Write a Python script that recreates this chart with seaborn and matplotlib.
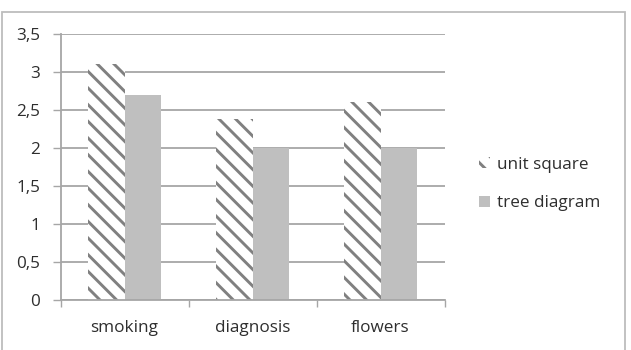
import pandas as pd
import numpy as np
import matplotlib
matplotlib.use('Agg')
import matplotlib.pyplot as plt
from matplotlib.patches import Rectangle
import seaborn as sns

categories = ['smoking', 'diagnosis', 'flowers']
unit_square = [3.1, 2.38, 2.6]
tree_diagram = [2.7, 2.0, 2.0]
series_names = ['unit square', 'tree diagram']
y_ticks = [0, 0.5, 1, 1.5, 2, 2.5, 3, 3.5]
y_tick_labels = ['0', '0,5', '1', '1,5', '2', '2,5', '3', '3,5']

df = pd.DataFrame({
    'category': categories * 2,
    'value': unit_square + tree_diagram,
    'series': [series_names[0]] * 3 + [series_names[1]] * 3,
})

sns.set_style('white')
plt.rcParams['font.family'] = ['Open Sans', 'DejaVu Sans']
plt.rcParams['hatch.color'] = '#808080'
plt.rcParams['hatch.linewidth'] = 2.1

text_col = '#2e2e2e'
grid_col = '#a6a6a6'
fs = 12.3

fig = plt.figure(figsize=(6.31, 3.5), dpi=100)
ax = fig.add_axes([60.5 / 631, 50 / 350, 384 / 631, 266 / 350])

sns.barplot(data=df, x='category', y='value', hue='series', ax=ax,
            palette=['white', '#bfbfbf'], width=0.57, gap=0,
            linewidth=0, legend=False, saturation=1)

# hatch the first series
for bar in ax.containers[0]:
    bar.set_facecolor('white')
    bar.set_hatch('\\\\')
    bar.set_edgecolor('#808080')
    bar.set_linewidth(0)

ax.set_ylim(0, 3.5)
ax.set_xlim(-0.5, 2.5)
ax.set_yticks(y_ticks)
ax.set_yticklabels(y_tick_labels)
ax.set_xlabel('')
ax.set_ylabel('')
ax.set_axisbelow(True)
ax.yaxis.grid(True, color=grid_col, linewidth=1.3)

# boundary ticks on the x axis
ax.set_xticks([-0.5, 0.5, 1.5, 2.5], minor=True)
ax.tick_params(axis='x', which='major', length=0, pad=14.5, labelsize=fs, labelcolor=text_col)
ax.tick_params(axis='x', which='minor', length=5, width=1, color=grid_col, direction='out', bottom=True)
ax.tick_params(axis='y', length=6, width=1, color=grid_col, pad=8.5, labelsize=fs,
               labelcolor=text_col, left=True)

sns.despine(ax=ax, top=True, right=True)
for s in ['left', 'bottom']:
    ax.spines[s].set_color(grid_col)
    ax.spines[s].set_linewidth(1.3)

# legend
h1 = Rectangle((0, 0), 1, 1, facecolor='white', hatch='\\\\', edgecolor='#808080', linewidth=0)
h2 = Rectangle((0, 0), 1, 1, facecolor='#bfbfbf', edgecolor='none', linewidth=0)
fig.legend([h1, h2], series_names, loc='center left', bbox_to_anchor=(464 / 631, 1 - 184 / 350),
           frameon=False, handlelength=0.6, handleheight=0.6, handletextpad=0.45,
           labelspacing=1.3, fontsize=fs, labelcolor=text_col)

# outer chart border
fig.patches.append(Rectangle((1.5 / 631, -0.05), 623.5 / 631, 1.05 - 11.5 / 350,
                             transform=fig.transFigure, fill=False,
                             edgecolor='#bdbdbd', linewidth=1.3))

fig.savefig('out.png', dpi=100)
